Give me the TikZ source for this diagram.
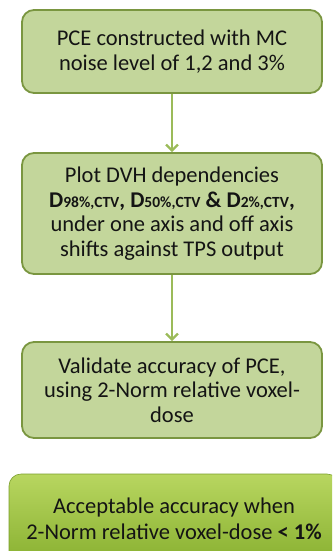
\documentclass[tikz,border=0pt]{standalone}
\usepackage{fontspec}
\setmainfont{Carlito}
\usetikzlibrary{arrows.meta}
\definecolor{boxfill}{RGB}{195,214,155}
\definecolor{boxline}{RGB}{122,150,64}
\definecolor{arrowc}{RGB}{155,187,89}
\definecolor{txt}{RGB}{20,20,20}
\definecolor{gtop}{RGB}{184,214,96}
\definecolor{gbot}{RGB}{136,176,48}
\newcommand{\sbx}[1]{\raisebox{-0.8pt}{\fontsize{15.5}{15.5}\selectfont\bfseries #1}}
\begin{document}
\begin{tikzpicture}[x=1pt,y=-1pt,
  stepbox/.style={draw=boxline, line width=1.8pt, fill=boxfill, rounded corners=12pt,
    minimum width=300pt, align=center, text=txt, font=\fontsize{22.5}{24.5}\selectfont, inner sep=0pt},
  finalbox/.style={draw=gbot!90!black, line width=0.6pt, top color=gtop, bottom color=gbot,
    rounded corners=12pt, minimum width=330pt, minimum height=90pt, align=center, text=txt,
    font=\fontsize{22.5}{26}\selectfont, inner sep=0pt},
  conn/.style={draw=arrowc, line width=2.2pt, -{Straight Barb[length=6pt,width=12pt,line width=2.2pt]}}]
\useasboundingbox (0,0) rectangle (332,551);
\clip (0,0) rectangle (332,551);
\node[stepbox, minimum height=83pt] (a) at (172,51.5) {PCE constructed with MC\\noise level of 1,2 and 3\%};
\node[stepbox, minimum height=121pt] (b) at (172,213.5) {Plot DVH dependencies\\
  \textbf{D}\sbx{98\%,CTV}\textbf{, D}\sbx{50\%,CTV} \textbf{\& D}\sbx{2\%,CTV}\textbf{,}\\
  under one axis and off axis\\shifts against TPS output};
\node[stepbox, minimum height=96pt] (c) at (172,390) {Validate accuracy of PCE,\\using 2-Norm relative voxel-\\dose};
\node[finalbox] (d) at (174,519) {Acceptable accuracy when\\2-Norm relative voxel-dose \textbf{< 1\%}};
\draw[conn] (a.south) -- (b.north);
\draw[conn] (b.south) -- (c.north);
\end{tikzpicture}
\end{document}
